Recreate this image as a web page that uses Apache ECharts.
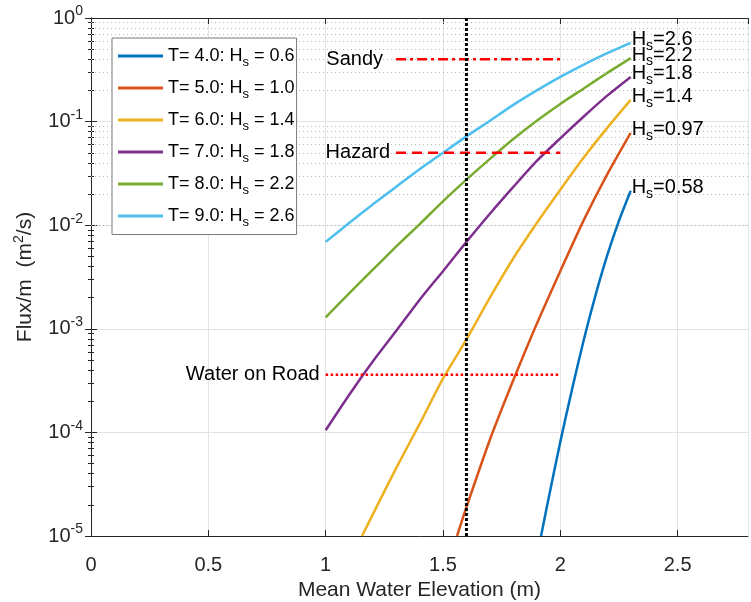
<!DOCTYPE html>
<html><head><meta charset="utf-8">
<script src="https://cdn.jsdelivr.net/npm/echarts@6/dist/echarts.min.js"></script>
<style>html,body{margin:0;padding:0;background:#fff}#c{width:751px;height:602px}</style>
</head><body><div id="c"></div>
<script>
// ---- data ----
const elevFull = [1.0,1.1,1.2,1.3,1.4,1.5,1.6,1.7,1.8,1.9,2.0,2.1,2.2,2.3];
const blueX = [1.918,1.95,2.0,2.05,2.1,2.15,2.2,2.25,2.3];
const blueY = [1.0e-5,2.3e-5,8.1e-5,2.6e-4,7.8e-4,2.1e-3,5.1e-3,1.1e-2,2.15e-2];
const orangeX = [1.56,1.6,1.7,1.8,1.9,2.0,2.1,2.2,2.3];
const orangeY = [1.0e-5,1.9e-5,8.5e-5,3.2e-4,1.12e-3,3.6e-3,1.12e-2,3.1e-2,7.8e-2];
const yellowX = [1.155,1.2,1.3,1.4,1.5,1.6,1.7,1.8,1.9,2.0,2.1,2.2,2.3];
const yellowY = [1.0e-5,1.6e-5,4.5e-5,1.2e-4,3.3e-4,7.9e-4,2.0e-3,4.8e-3,1.05e-2,2.2e-2,4.5e-2,8.7e-2,0.162];
const purpleY = [1.05e-4,2.3e-4,4.8e-4,9.5e-4,1.9e-3,3.6e-3,6.9e-3,1.29e-2,2.34e-2,4.17e-2,6.9e-2,0.112,0.178,0.27];
const greenY = [1.29e-3,2.2e-3,3.7e-3,6.2e-3,1.02e-2,1.7e-2,2.75e-2,4.37e-2,6.8e-2,0.102,0.148,0.209,0.295,0.41];
const cyanY = [6.9e-3,1.05e-2,1.58e-2,2.34e-2,3.47e-2,5.0e-2,7.2e-2,0.102,0.145,0.20,0.27,0.355,0.457,0.575];

const legendNames = ['T= 4.0: Hs = 0.6','T= 5.0: Hs = 1.0','T= 6.0: Hs = 1.4','T= 7.0: Hs = 1.8','T= 8.0: Hs = 2.2','T= 9.0: Hs = 2.6'];
const endHs = ['0.58','0.97','1.4','1.8','2.2','2.6'];

const sandyX = [1.3, 2.0], sandyVal = 0.40;
const hazardX = [1.3, 2.0], hazardVal = 0.050;
const roadX = [1.0, 2.0], roadVal = 3.6e-4;
const stormElev = 1.6;

const xTicksMax = 2.8;
const yMin = 1e-5, yMax = 1;
const minorMult = [2,3,4,5,6,7,8,9];
const decades = [-5,-4,-3,-2,-1];

// ---- chart ----
const FONT = "'Liberation Sans', Arial, Helvetica, sans-serif";
const TXT = '#262626';
const colors = ['#0072BD','#D95319','#EDB120','#7E2F8E','#77AC30','#4DBEEE'];
const curveX = [blueX, orangeX, yellowX, elevFull, elevFull, elevFull];
const curveY = [blueY, orangeY, yellowY, purpleY, greenY, cyanY];

const minorVals = [];
decades.forEach(d => minorMult.forEach(m => minorVals.push(m * Math.pow(10, d))));

const series = [];
series.push({
  type: 'line', data: [[0, yMin]], showSymbol: false, silent: true, z: 1,
  lineStyle: {opacity: 0},
  markLine: {
    silent: true, symbol: 'none', animation: false,
    label: {show: false},
    lineStyle: {type: [1, 3], color: '#b8b8b8', width: 1},
    data: minorVals.map(v => ({yAxis: v}))
  }
});

curveX.forEach((xs, k) => {
  series.push({
    name: legendNames[k], type: 'line', showSymbol: false, symbol: 'none', z: 5,
    smooth: 0.25,
    color: colors[k],
    lineStyle: {width: 2.5, color: colors[k]},
    data: xs.map((x, i) => [x, curveY[k][i]]),
    endLabel: {
      show: true, distance: 1, offset: [0, -3],
      formatter: () => '{m|H}{sub|s}{m|=' + endHs[k] + '}',
      rich: {
        m: {fontSize: 20, fontFamily: FONT, color: '#000'},
        sub: {fontSize: 14, fontFamily: FONT, color: '#000', padding: [13, 0, 0, 0]}
      }
    }
  });
});

function refLine(xs, val, dash, label, dist) {
  return {
    type: 'line', showSymbol: false, symbol: 'none', z: 6, silent: true,
    data: xs.map(x => [x, val]),
    lineStyle: {color: '#FF0000', width: 2.5, type: dash},
    markPoint: {
      symbol: 'circle', symbolSize: 0, silent: true, animation: false,
      data: [{coord: [xs[0], val], label: {show: true, position: 'left', distance: dist, formatter: label,
        fontSize: 20, fontFamily: FONT, color: '#000'}}]
    }
  };
}
series.push(refLine(sandyX, sandyVal, [10, 4, 3, 4], 'Sandy', 13));
series.push(refLine(hazardX, hazardVal, [10, 6], 'Hazard', 6));
series.push(refLine(roadX, roadVal, [2.5, 2.5], 'Water on Road', 6));
series.push({
  type: 'line', showSymbol: false, symbol: 'none', z: 7, silent: true,
  data: [[stormElev, yMin], [stormElev, yMax]],
  lineStyle: {color: '#000', width: 3, type: [3, 2]}
});

const supFmt = v => {
  const e = Math.round(Math.log10(v));
  return '{b|10}{e|' + e + '}';
};

const option = {
  animation: false,
  backgroundColor: '#fff',
  textStyle: {fontFamily: FONT},
  grid: {left: 91, right: 3, top: 18, bottom: 66, containLabel: false, outerBoundsMode: 'none'},
  legend: {
    data: legendNames, orient: 'vertical', left: 112, top: 38,
    icon: 'rect',
    backgroundColor: '#fff', borderColor: '#7a7a7a', borderWidth: 1,
    padding: [9, 2, 6, 6], itemWidth: 45, itemHeight: 3, itemGap: 10.5,
    formatter: n => n.replace('Hs', 'H{sub|s}'),
    textStyle: {
      fontSize: 18, fontFamily: FONT, color: '#000',
      rich: {sub: {fontSize: 13, fontFamily: FONT, color: '#000', padding: [12, 0, 0, 0]}}
    },
    z: 20
  },
  xAxis: [{
    type: 'value', min: 0, max: xTicksMax, interval: 0.5, position: 'bottom',
    name: 'Mean Water Elevation (m)', nameLocation: 'middle', nameGap: 44,
    nameTextStyle: {fontSize: 21, fontFamily: FONT, color: TXT},
    axisLine: {onZero: false, lineStyle: {color: TXT, width: 1}},
    axisTick: {inside: true, length: 6, lineStyle: {color: TXT}},
    axisLabel: {fontSize: 20, fontFamily: FONT, color: TXT, margin: 19, showMaxLabel: false,
      formatter: v => (v > 2.6 ? '' : String(v))},
    splitLine: {show: true, lineStyle: {color: '#e3e3e3', width: 1}}
  }, {
    type: 'value', min: 0, max: xTicksMax, interval: 0.5, position: 'top',
    axisLine: {onZero: false, lineStyle: {color: TXT, width: 1}},
    axisTick: {inside: true, length: 6, lineStyle: {color: TXT}},
    axisLabel: {show: false}, splitLine: {show: false}
  }],
  yAxis: [{
    type: 'log', logBase: 10, min: yMin, max: yMax, position: 'left',
    name: 'Flux/m  (m{sup|2}/s)', nameLocation: 'middle', nameGap: 52,
    nameTextStyle: {fontSize: 21, fontFamily: FONT, color: TXT,
      rich: {sup: {fontSize: 14, fontFamily: FONT, color: TXT, padding: [0, 0, 13, 0]}}},
    axisLine: {show: true, lineStyle: {color: TXT, width: 1}},
    axisTick: {show: true, inside: true, length: 6, lineStyle: {color: TXT}},
    minorTick: {show: true, splitNumber: 9, length: 3, lineStyle: {color: TXT}},
    axisLabel: {formatter: supFmt, margin: 8,
      rich: {
        b: {fontSize: 20, fontFamily: FONT, color: TXT},
        e: {fontSize: 14, fontFamily: FONT, color: TXT, padding: [0, 0, 13, 0]}
      }},
    splitLine: {show: true, lineStyle: {color: '#e3e3e3', width: 1}}
  }, {
    type: 'log', logBase: 10, min: yMin, max: yMax, position: 'right',
    axisLine: {show: true, lineStyle: {color: TXT, width: 1}},
    axisTick: {show: true, inside: true, length: 6, lineStyle: {color: TXT}},
    minorTick: {show: true, splitNumber: 9, length: 3, lineStyle: {color: TXT}},
    axisLabel: {show: false}, splitLine: {show: false}
  }],
  series: series
};

const chart = echarts.init(document.getElementById('c'), null, {renderer: 'canvas'});
chart.setOption(option);
</script>
</body></html>
